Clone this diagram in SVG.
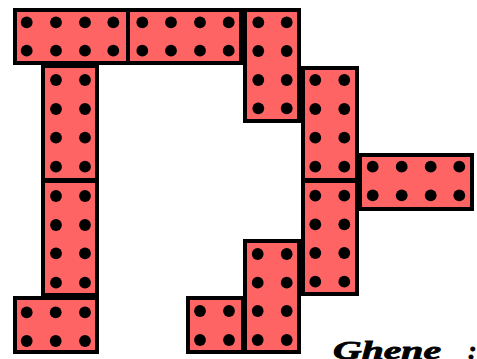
<svg xmlns="http://www.w3.org/2000/svg" width="477" height="359" viewBox="0 0 477 359">
<style>
.b{fill:#FF6464;stroke:#000;stroke-width:4}
.d{fill:#000}
.t{font-family:"Liberation Serif",serif;font-weight:bold;font-style:italic;font-size:26px;fill:#000;stroke:#000;stroke-width:0.8}
</style>
<defs><circle id="p" r="5.9"/></defs>
<rect width="477" height="359" fill="#fff"/>
<g id="block1"><rect class="b" x="15" y="10" width="113" height="53"/>
<g class="d"><use href="#p" x="26.7" y="22.3"/><use href="#p" x="56" y="22.3"/><use href="#p" x="85" y="22.3"/><use href="#p" x="113.3" y="22.3"/><use href="#p" x="26.7" y="50.7"/><use href="#p" x="56" y="50.7"/><use href="#p" x="85" y="50.7"/><use href="#p" x="113.3" y="50.7"/></g></g>
<g id="block2"><rect class="b" x="128" y="10" width="113" height="53"/>
<g class="d"><use href="#p" x="142.3" y="22.3"/><use href="#p" x="171" y="22.3"/><use href="#p" x="200" y="22.3"/><use href="#p" x="228.7" y="22.3"/><use href="#p" x="142.3" y="50.7"/><use href="#p" x="171" y="50.7"/><use href="#p" x="200" y="50.7"/><use href="#p" x="228.7" y="50.7"/></g></g>
<g id="block3"><rect class="b" x="245" y="10" width="54" height="111"/>
<g class="d"><use href="#p" x="258.3" y="22.3"/><use href="#p" x="286.7" y="22.3"/><use href="#p" x="258.3" y="51"/><use href="#p" x="286.7" y="51"/><use href="#p" x="258.3" y="80"/><use href="#p" x="286.7" y="80"/><use href="#p" x="258.3" y="108.3"/><use href="#p" x="286.7" y="108.3"/></g></g>
<g id="block9"><rect class="b" x="43" y="66" width="54" height="114"/>
<g class="d"><use href="#p" x="56" y="80"/><use href="#p" x="85" y="80"/><use href="#p" x="56" y="109"/><use href="#p" x="85" y="109"/><use href="#p" x="56" y="137.7"/><use href="#p" x="85" y="137.7"/><use href="#p" x="56" y="166.7"/><use href="#p" x="85" y="166.7"/></g></g>
<g id="block10"><rect class="b" x="43" y="181" width="54" height="114"/>
<g class="d"><use href="#p" x="56" y="196"/><use href="#p" x="85" y="196"/><use href="#p" x="56" y="225"/><use href="#p" x="85" y="225"/><use href="#p" x="56" y="253.3"/><use href="#p" x="85" y="253.3"/><use href="#p" x="56" y="282.7"/><use href="#p" x="85" y="282.7"/></g></g>
<g id="block11"><rect class="b" x="15" y="298" width="82" height="54"/>
<g class="d"><use href="#p" x="26.7" y="312.3"/><use href="#p" x="55.7" y="312.3"/><use href="#p" x="85" y="312.3"/><use href="#p" x="26.7" y="341"/><use href="#p" x="55.7" y="341"/><use href="#p" x="85" y="341"/></g></g>
<g id="block4"><rect class="b" x="303" y="68" width="54" height="112"/>
<g class="d"><use href="#p" x="315.3" y="80"/><use href="#p" x="344.3" y="80"/><use href="#p" x="315.3" y="109"/><use href="#p" x="344.3" y="109"/><use href="#p" x="315.3" y="137.7"/><use href="#p" x="344.3" y="137.7"/><use href="#p" x="315.3" y="166.7"/><use href="#p" x="344.3" y="166.7"/></g></g>
<g id="block6"><rect class="b" x="303" y="181" width="54" height="113"/>
<g class="d"><use href="#p" x="315.3" y="195.7"/><use href="#p" x="344.3" y="195.7"/><use href="#p" x="315.3" y="224.3"/><use href="#p" x="344.3" y="224.3"/><use href="#p" x="315.3" y="253"/><use href="#p" x="344.3" y="253"/><use href="#p" x="315.3" y="281.7"/><use href="#p" x="344.3" y="281.7"/></g></g>
<g id="block5"><rect class="b" x="360" y="155" width="112" height="54"/>
<g class="d"><use href="#p" x="372.7" y="166.7"/><use href="#p" x="401.7" y="166.7"/><use href="#p" x="430.7" y="166.7"/><use href="#p" x="459.3" y="166.7"/><use href="#p" x="372.7" y="195.3"/><use href="#p" x="401.7" y="195.3"/><use href="#p" x="430.7" y="195.3"/><use href="#p" x="459.3" y="195.3"/></g></g>
<g id="block8"><rect class="b" x="188" y="298" width="55" height="54"/>
<g class="d"><use href="#p" x="200" y="311"/><use href="#p" x="229" y="311"/><use href="#p" x="200" y="340"/><use href="#p" x="229" y="340"/></g></g>
<g id="block7"><rect class="b" x="245" y="241" width="54" height="111"/>
<g class="d"><use href="#p" x="257.7" y="254"/><use href="#p" x="286.7" y="254"/><use href="#p" x="257.7" y="282.7"/><use href="#p" x="286.7" y="282.7"/><use href="#p" x="257.7" y="311"/><use href="#p" x="286.7" y="311"/><use href="#p" x="257.7" y="340"/><use href="#p" x="286.7" y="340"/></g></g>
<g id="caption"><text class="t" x="333" y="359"><tspan textLength="108" lengthAdjust="spacingAndGlyphs">Ghene</tspan><tspan x="468">:</tspan></text></g>
</svg>
